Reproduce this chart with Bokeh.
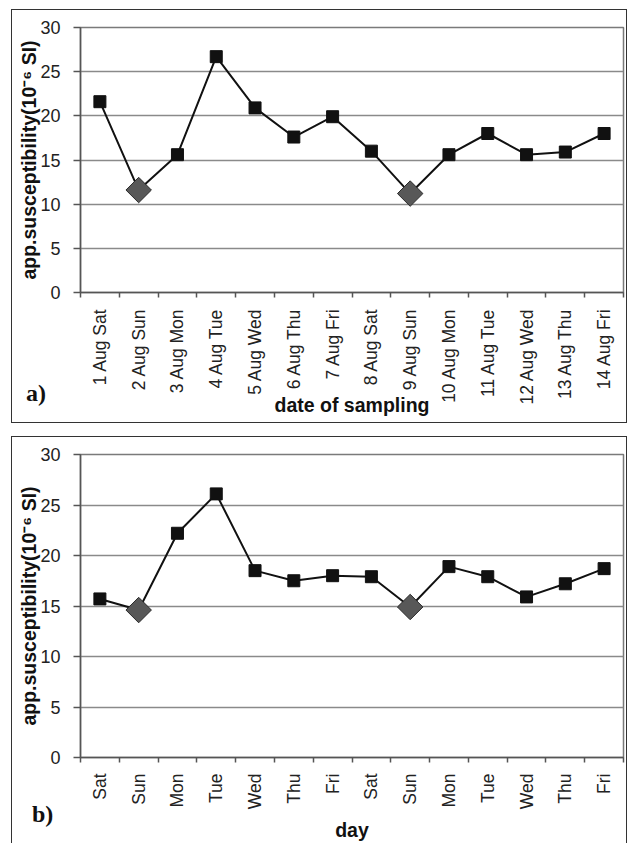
import math
from bokeh.plotting import figure
from bokeh.layouts import column
from bokeh.models import FixedTicker, Range1d, ColumnDataSource, Div
from bokeh.embed import file_html
from bokeh.resources import INLINE

dates_a = ["1 Aug Sat", "2 Aug Sun", "3 Aug Mon", "4 Aug Tue", "5 Aug Wed", "6 Aug Thu",
           "7 Aug Fri", "8 Aug Sat", "9 Aug Sun", "10 Aug Mon", "11 Aug Tue", "12 Aug Wed",
           "13 Aug Thu", "14 Aug Fri"]
values_a = [21.6, 11.6, 15.6, 26.7, 20.9, 17.6, 19.9, 16.0, 11.2, 15.6, 18.0, 15.6, 15.9, 18.0]

days_b = ["Sat", "Sun", "Mon", "Tue", "Wed", "Thu", "Fri", "Sat", "Sun", "Mon", "Tue", "Wed",
          "Thu", "Fri"]
values_b = [15.7, 14.6, 22.2, 26.1, 18.5, 17.5, 18.0, 17.9, 14.9, 18.9, 17.9, 15.9, 17.2, 18.7]

sunday_idx = [1, 8]
y_ticks = [0, 5, 10, 15, 20, 25, 30]
y_label = "app.susceptibility(10\u207b\u2076 SI)"

FONT = "Liberation Sans"


def make_panel(labels, values, xtitle, width, height, borders, margin, styles,
               title_standoff, label_standoff):
    n = len(labels)
    xs = list(range(1, n + 1))
    p = figure(width=width, height=height, output_backend="svg", toolbar_location=None,
               x_range=Range1d(0.5, n + 0.5), y_range=Range1d(0, 30),
               min_border_left=borders[0], min_border_right=borders[1],
               min_border_top=borders[2], min_border_bottom=borders[3])
    p.margin = margin
    p.styles = styles
    p.background_fill_color = "white"
    p.border_fill_color = "white"
    p.outline_line_color = "#7a7a7a"
    p.outline_line_width = 1.5

    p.xgrid.grid_line_color = None
    p.ygrid.grid_line_color = "#8a8a8a"
    p.ygrid.grid_line_width = 1.4
    p.ygrid.ticker = FixedTicker(ticks=y_ticks)

    p.yaxis.ticker = FixedTicker(ticks=y_ticks)
    p.yaxis.major_label_text_font = FONT
    p.yaxis.major_label_text_font_size = "18px"
    p.yaxis.major_label_text_color = "#222222"
    p.yaxis.major_tick_out = 7
    p.yaxis.major_tick_in = 0
    p.yaxis.major_tick_line_color = "#555555"
    p.yaxis.major_tick_line_width = 1.5
    p.yaxis.minor_tick_line_color = None
    p.yaxis.axis_line_color = "#555555"
    p.yaxis.axis_line_width = 1.5
    p.yaxis.axis_label = y_label
    p.yaxis.axis_label_text_font = FONT
    p.yaxis.axis_label_text_font_style = "bold"
    p.yaxis.axis_label_text_font_size = "19.5px"
    p.yaxis.axis_label_text_color = "#111111"
    p.yaxis.axis_label_standoff = -3
    p.yaxis.major_label_standoff = 13

    bounds = [i + 0.5 for i in range(0, n + 1)]
    p.xaxis.ticker = FixedTicker(ticks=xs, minor_ticks=bounds)
    p.xaxis.major_label_overrides = {x: lab for x, lab in zip(xs, labels)}
    p.xaxis.major_label_orientation = math.pi / 2
    p.xaxis.major_label_text_font = FONT
    p.xaxis.major_label_text_font_size = "17.5px"
    p.xaxis.major_label_text_color = "#222222"
    p.xaxis.major_tick_out = 0
    p.xaxis.major_tick_in = 0
    p.xaxis.minor_tick_out = 5
    p.xaxis.minor_tick_in = 0
    p.xaxis.minor_tick_line_color = "#555555"
    p.xaxis.minor_tick_line_width = 1.5
    p.xaxis.axis_line_color = "#555555"
    p.xaxis.axis_line_width = 1.5
    p.xaxis.major_label_standoff = label_standoff
    p.xaxis.axis_label = xtitle
    p.xaxis.axis_label_text_font = FONT
    p.xaxis.axis_label_text_font_style = "bold"
    p.xaxis.axis_label_text_font_size = "19.5px"
    p.xaxis.axis_label_text_color = "#111111"
    p.xaxis.axis_label_standoff = title_standoff

    src = ColumnDataSource(dict(x=xs, y=values))
    p.line("x", "y", source=src, line_color="#111111", line_width=2)

    sq_x = [x for i, x in enumerate(xs) if i not in sunday_idx]
    sq_y = [v for i, v in enumerate(values) if i not in sunday_idx]
    p.scatter(sq_x, sq_y, marker="square", size=12, fill_color="#111111",
              line_color="#111111")
    d_x = [xs[i] for i in sunday_idx]
    d_y = [values[i] for i in sunday_idx]
    p.scatter(d_x, d_y, marker="square", size=18, angle=math.pi / 4,
              fill_color="#585858", line_color="#2a2a2a", line_width=1)
    return p


def tag_div(text, margin):
    return Div(text=text, width=40, height=25, margin=margin,
               styles={"font-family": "Liberation Serif", "font-weight": "bold",
                       "font-size": "24px", "line-height": "25px", "color": "#111111",
                       "z-index": "10"})


pa = make_panel(dates_a, values_a, "date of sampling", 616, 414,
                (68, 5, 17, 132), (9, 0, 0, 11),
                {"border": "1.5px solid #333333", "box-sizing": "border-box"},
                -13, 11)
div_a = tag_div("a)", (-42, 0, 0, 26))
pb = make_panel(days_b, values_b, "day", 616, 407,
                (65, 4, 17, 85), (30, 0, 0, 11),
                {"border": "1.5px solid #333333", "border-bottom": "none",
                 "box-sizing": "border-box"},
                7, 11)
div_b = tag_div("b)", (-41, 0, 0, 32))

layout = column(pa, div_a, pb, div_b, spacing=0)
open("out.html", "w").write(file_html(layout, INLINE))
